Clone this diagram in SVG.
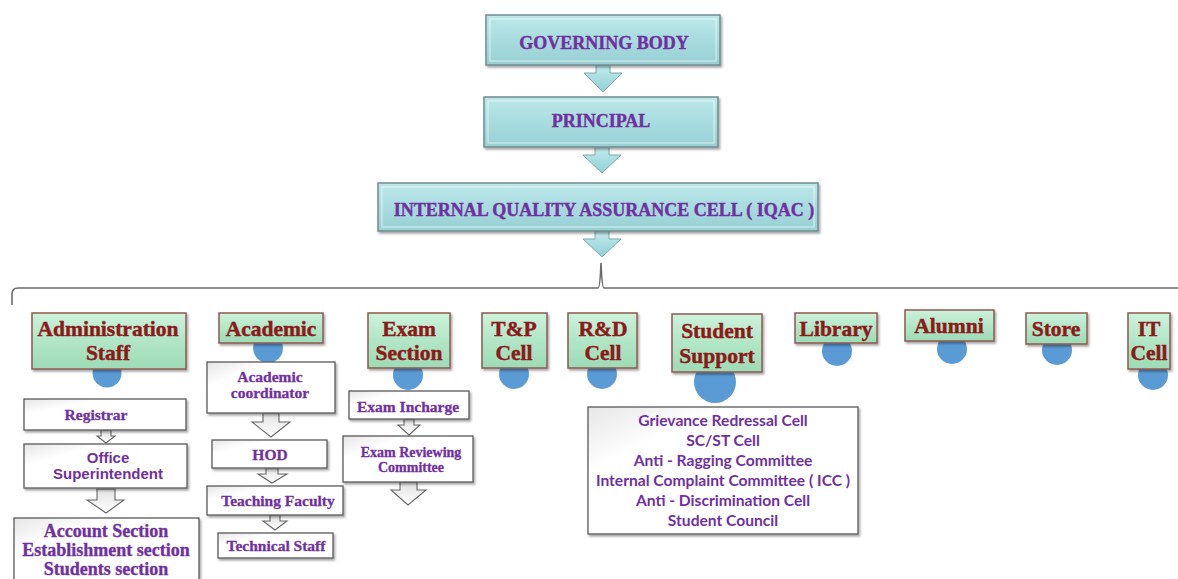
<svg xmlns="http://www.w3.org/2000/svg" width="1178" height="579" viewBox="0 0 1178 579">
<defs>
<linearGradient id="gCyan" x1="0" y1="0" x2="0" y2="1">
<stop offset="0" stop-color="#bde8ea"/><stop offset="0.5" stop-color="#a8dcdf"/><stop offset="1" stop-color="#98d0d4"/>
</linearGradient>
<linearGradient id="gGreen" x1="0" y1="0" x2="0" y2="1">
<stop offset="0" stop-color="#cdf2dc"/><stop offset="0.5" stop-color="#b2e6c6"/><stop offset="1" stop-color="#9ddbb6"/>
</linearGradient>
<linearGradient id="gWhite" x1="0" y1="0" x2="1" y2="1">
<stop offset="0" stop-color="#e6e6e6"/><stop offset="0.25" stop-color="#ffffff"/><stop offset="1" stop-color="#ffffff"/>
</linearGradient>
<linearGradient id="gArrowC" x1="0" y1="0" x2="0" y2="1">
<stop offset="0" stop-color="#c4ecee"/><stop offset="1" stop-color="#8fcfd4"/>
</linearGradient>
<linearGradient id="gArrowW" x1="0" y1="0" x2="0" y2="1">
<stop offset="0" stop-color="#e2e2e2"/><stop offset="1" stop-color="#ffffff"/>
</linearGradient>
<filter id="sh" x="-10%" y="-10%" width="125%" height="135%">
<feDropShadow dx="1.5" dy="2" stdDeviation="1.2" flood-color="#000" flood-opacity="0.35"/>
</filter>
</defs>
<style>
.top{fill:url(#gCyan);stroke:#6f8d90;stroke-width:1.5;filter:url(#sh)}
.grn{fill:url(#gGreen);stroke:#8e5a4c;stroke-width:1.5;filter:url(#sh)}
.wht{fill:url(#gWhite);stroke:#5a5a5a;stroke-width:1.3;filter:url(#sh)}
.inner{fill:none;stroke:#ffffff;stroke-opacity:0.55;stroke-width:1.2}
.dot{fill:#5b9bd5}
.arC{fill:url(#gArrowC);stroke:#7aa9ad;stroke-width:1}
.arW{fill:url(#gArrowW);stroke:#666;stroke-width:1.1}
.tTop{font-family:"Liberation Serif",serif;font-weight:bold;font-size:18px;fill:#7030a0;stroke:#7030a0;stroke-width:0.4;text-anchor:middle}
.tGrn{font-family:"Liberation Serif",serif;font-weight:bold;font-size:21.5px;fill:#8b1a1a;stroke:#8b1a1a;stroke-width:0.45;text-anchor:middle}
.tSub{font-family:"Liberation Serif",serif;font-weight:bold;font-size:15.5px;fill:#7030a0;stroke:#7030a0;stroke-width:0.3;text-anchor:middle}
.tAcc{font-family:"Liberation Serif",serif;font-weight:bold;font-size:18px;fill:#7030a0;stroke:#7030a0;stroke-width:0.35;text-anchor:middle}
.tSans{font-family:"Liberation Sans",sans-serif;font-weight:bold;font-size:15px;fill:#7030a0;text-anchor:middle}
.tList{font-family:Lato,"Liberation Sans",sans-serif;font-weight:bold;font-size:15.6px;fill:#7030a0;text-anchor:middle}
.line{fill:none;stroke:#6a6a6a;stroke-width:1.6}
</style>

<g id="connectors">
<path class="line" d="M12,305 L12,294 Q12,288 18,288 L598,288 Q600,288 601,263 Q602,288 604,288 L1178,288"/>
<polygon class="arC" points="596,65 610,65 610,73 622,73 603,92 584,73 596,73"/>
<polygon class="arC" points="595,147 609,147 609,155 621,155 602,173 583,155 595,155"/>
<polygon class="arC" points="595,231 609,231 609,239 621,239 602,257 583,239 595,239"/>
<polygon class="arW" points="101,430 111,430 111,436 115,436 106,443 97,436 101,436"/>
<polygon class="arW" points="97,489 115,489 115,500 124,500 106,513 87,500 97,500"/>
<polygon class="arW" points="263,413 279,413 279,422 290,422 271,437 252,422 263,422"/>
<polygon class="arW" points="266,468 278,468 278,474 287,474 272,483 258,474 266,474"/>
<polygon class="arW" points="270,515 280,515 280,521 287,521 275,530 263,521 270,521"/>
<polygon class="arW" points="404,419 414,419 414,425 420,425 409,435 398,425 404,425"/>
<polygon class="arW" points="400,482 417,482 417,490 426,490 408,505 391,490 400,490"/>
</g>

<g id="governing-body">
<rect class="top" x="486" y="15" width="234" height="50"/>
<rect class="inner" x="490" y="19" width="226" height="42"/>
<text class="tTop" x="604" y="49">GOVERNING BODY</text>
</g>
<g id="principal">
<rect class="top" x="484" y="97" width="234" height="50"/>
<rect class="inner" x="488" y="101" width="226" height="42"/>
<text class="tTop" x="601" y="127">PRINCIPAL</text>
</g>
<g id="iqac">
<rect class="top" x="378" y="183" width="440" height="48"/>
<rect class="inner" x="382" y="187" width="432" height="40"/>
<text class="tTop" x="604" y="216">INTERNAL QUALITY ASSURANCE CELL ( IQAC )</text>
</g>

<g id="administration-staff">
<circle class="dot" cx="107" cy="373" r="14.5"/>
<rect class="grn" x="32" y="313" width="154" height="56"/>
<text class="tGrn" x="108" y="336">Administration</text>
<text class="tGrn" x="108" y="360">Staff</text>
</g>
<g id="academic">
<circle class="dot" cx="268" cy="348" r="15"/>
<rect class="grn" x="219" y="313" width="104" height="30"/>
<text class="tGrn" x="271" y="336">Academic</text>
</g>
<g id="exam-section">
<circle class="dot" cx="408" cy="375" r="15"/>
<rect class="grn" x="368" y="313" width="82" height="55"/>
<text class="tGrn" x="409" y="336">Exam</text>
<text class="tGrn" x="409" y="360">Section</text>
</g>
<g id="tp-cell">
<circle class="dot" cx="514" cy="374" r="15"/>
<rect class="grn" x="482" y="313" width="65" height="55"/>
<text class="tGrn" x="514" y="336">T&amp;P</text>
<text class="tGrn" x="514" y="360">Cell</text>
</g>
<g id="rd-cell">
<circle class="dot" cx="602" cy="374" r="15"/>
<rect class="grn" x="568" y="313" width="69" height="55"/>
<text class="tGrn" x="603" y="336">R&amp;D</text>
<text class="tGrn" x="603" y="360">Cell</text>
</g>
<g id="student-support">
<circle class="dot" cx="715" cy="382" r="21"/>
<rect class="grn" x="672" y="314" width="90" height="58"/>
<text class="tGrn" x="717" y="338">Student</text>
<text class="tGrn" x="717" y="363">Support</text>
</g>
<g id="library">
<circle class="dot" cx="837" cy="351" r="15"/>
<rect class="grn" x="795" y="313" width="82" height="30"/>
<text class="tGrn" x="836" y="336">Library</text>
</g>
<g id="alumni">
<circle class="dot" cx="952" cy="349" r="15"/>
<rect class="grn" x="905" y="310" width="89" height="31"/>
<text class="tGrn" x="949" y="333">Alumni</text>
</g>
<g id="store">
<circle class="dot" cx="1057" cy="350" r="15"/>
<rect class="grn" x="1026" y="313" width="61" height="31"/>
<text class="tGrn" x="1056" y="336">Store</text>
</g>
<g id="it-cell">
<circle class="dot" cx="1153" cy="375" r="15"/>
<rect class="grn" x="1128" y="313" width="42" height="56"/>
<text class="tGrn" x="1149" y="336">IT</text>
<text class="tGrn" x="1149" y="360">Cell</text>
</g>

<g id="registrar">
<rect class="wht" x="24" y="399" width="162" height="31"/>
<text class="tSub" x="96" y="420">Registrar</text>
</g>
<g id="office-superintendent">
<rect class="wht" x="24" y="444" width="163" height="44"/>
<text class="tSans" x="108" y="463">Office</text>
<text class="tSans" x="108" y="479">Superintendent</text>
</g>
<g id="sections">
<rect class="wht" x="14" y="518" width="185" height="70"/>
<text class="tAcc" x="106" y="537">Account Section</text>
<text class="tAcc" x="106" y="556">Establishment section</text>
<text class="tAcc" x="106" y="575">Students section</text>
</g>
<g id="academic-coordinator">
<rect class="wht" x="207" y="362" width="128" height="51"/>
<text class="tSub" x="270" y="382">Academic</text>
<text class="tSub" x="270" y="398">coordinator</text>
</g>
<g id="hod">
<rect class="wht" x="212" y="440" width="115" height="28"/>
<text class="tSub" x="270" y="460">HOD</text>
</g>
<g id="teaching-faculty">
<rect class="wht" x="207" y="486" width="136" height="29"/>
<text class="tSub" x="278" y="506">Teaching Faculty</text>
</g>
<g id="technical-staff">
<rect class="wht" x="218" y="533" width="115" height="25"/>
<text class="tSub" x="276" y="551">Technical Staff</text>
</g>
<g id="exam-incharge">
<rect class="wht" x="349" y="391" width="120" height="28"/>
<text class="tSub" x="408" y="412">Exam Incharge</text>
</g>
<g id="exam-reviewing-committee">
<rect class="wht" x="343" y="436" width="130" height="46"/>
<text class="tSub" style="font-size:14px" x="411" y="457">Exam Reviewing</text>
<text class="tSub" style="font-size:14px" x="411" y="472">Committee</text>
</g>
<g id="student-support-list">
<rect class="wht" x="588" y="407" width="270" height="127"/>
<text class="tList" x="723" y="426">Grievance Redressal Cell</text>
<text class="tList" x="723" y="446">SC/ST Cell</text>
<text class="tList" x="723" y="466">Anti - Ragging Committee</text>
<text class="tList" x="723" y="486">Internal Complaint Committee ( ICC )</text>
<text class="tList" x="723" y="506">Anti - Discrimination Cell</text>
<text class="tList" x="723" y="526">Student Council</text>
</g>
</svg>
